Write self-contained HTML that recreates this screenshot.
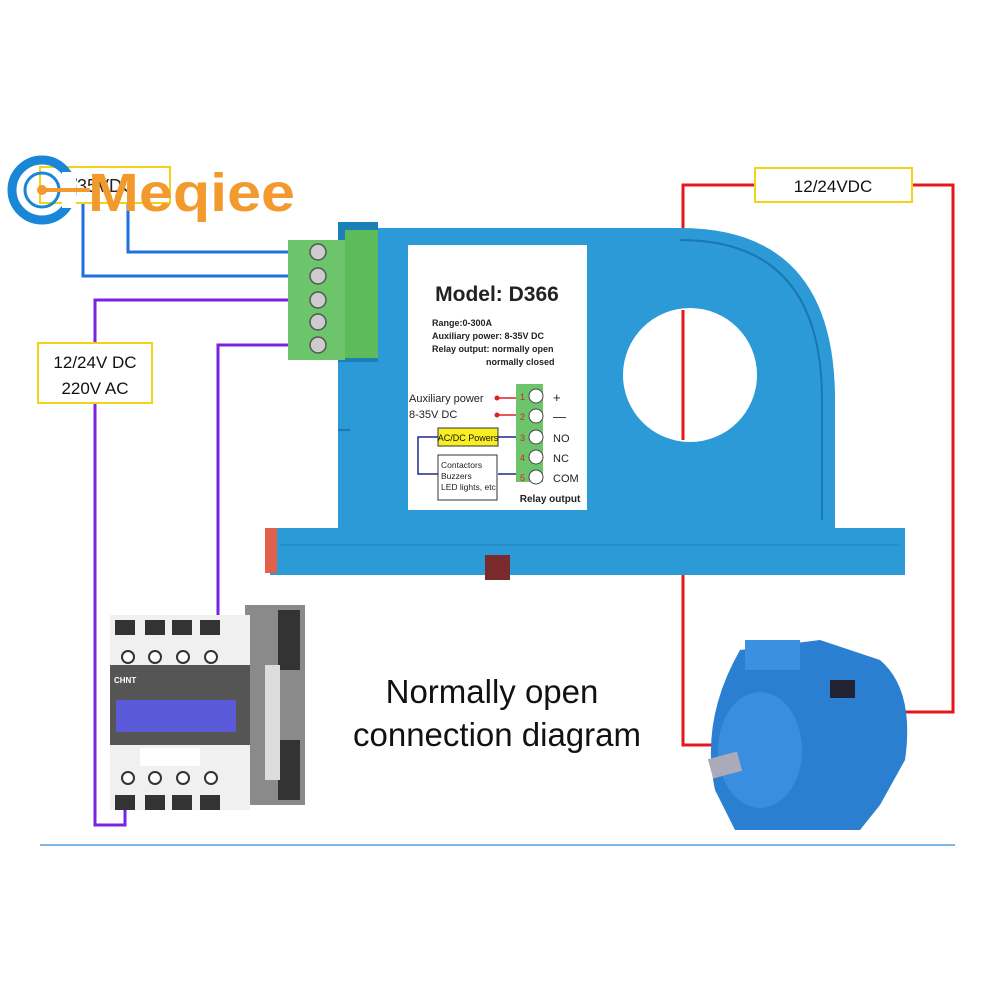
<!DOCTYPE html>
<html><head><meta charset="utf-8"><style>
body{margin:0;width:1000px;height:1000px;background:#fff;overflow:hidden;font-family:"Liberation Sans",sans-serif}
svg{position:absolute;left:0;top:0}
</style></head><body>
<svg width="1000" height="1000" viewBox="0 0 1000 1000" xmlns="http://www.w3.org/2000/svg">
<g fill="none" stroke-width="3">
<polyline points="128,195 128,252 318,252" stroke="#1e6fe0"/>
<polyline points="83,195 83,276 318,276" stroke="#1e6fe0"/>
<polyline points="318,300 95,300 95,825 125,825 125,650" stroke="#7a22e0"/>
<polyline points="318,345 218,345 218,625" stroke="#7a22e0"/>
<polyline points="755,185 683,185 683,745 715,745" stroke="#e5171b"/>
<polyline points="912,185 953,185 953,712 905,712" stroke="#e5171b"/>
</g>
<rect x="40" y="167" width="130" height="36" fill="#fff" stroke="#f3d21c" stroke-width="2"/>
<text x="62" y="192" font-size="18" fill="#222">8/35VDC</text>
<rect x="38" y="343" width="114" height="60" fill="#fff" stroke="#f3d21c" stroke-width="2"/>
<text x="95" y="368" font-size="17" fill="#111" text-anchor="middle">12/24V DC</text>
<text x="95" y="394" font-size="17" fill="#111" text-anchor="middle">220V AC</text>
<rect x="755" y="168" width="157" height="34" fill="#fff" stroke="#f3d21c" stroke-width="2"/>
<text x="833" y="192" font-size="17" fill="#111" text-anchor="middle">12/24VDC</text>
<circle cx="42" cy="190" r="30" fill="none" stroke="#1a86d8" stroke-width="9"/>
<circle cx="42" cy="190" r="17" fill="none" stroke="#1a86d8" stroke-width="3"/>
<rect x="62" y="172" width="14" height="36" fill="#fff"/>
<line x1="42" y1="190" x2="90" y2="190" stroke="#f39a2e" stroke-width="4"/>
<circle cx="42" cy="190" r="5" fill="#f39a2e"/>
<text x="88" y="211" font-size="54" font-weight="bold" fill="#f39a2e" textLength="207" lengthAdjust="spacingAndGlyphs">Meqiee</text>
<rect x="270" y="528" width="635" height="47" fill="#2b9ad6"/>
<rect x="265" y="528" width="12" height="45" fill="#e0604a"/>
<rect x="485" y="555" width="25" height="25" fill="#7a2a2a"/>
<path d="M338,228 L680,228 Q835,228 835,400 L835,530 L338,530 Z" fill="#2b9ad6"/>
<path d="M680,240 Q822,240 822,400 L822,520" fill="none" stroke="#1a78b0" stroke-width="2"/>
<line x1="338" y1="430" x2="350" y2="430" stroke="#1a78b0" stroke-width="2"/>
<line x1="280" y1="545" x2="900" y2="545" stroke="#1f86c0" stroke-width="1"/>
<rect x="338" y="222" width="40" height="140" fill="#1b7fb8"/>
<circle cx="690" cy="375" r="67" fill="#fff"/>
<line x1="683" y1="310" x2="683" y2="440" stroke="#e5171b" stroke-width="3"/>
<rect x="345" y="230" width="33" height="128" fill="#5dbb5a"/>
<rect x="288" y="240" width="57" height="120" fill="#6cc56a"/>
<g fill="#ccc" stroke="#555" stroke-width="1.5">
<circle cx="318" cy="252" r="8"/><circle cx="318" cy="276" r="8"/><circle cx="318" cy="300" r="8"/><circle cx="318" cy="322" r="8"/><circle cx="318" cy="345" r="8"/>
</g>
<rect x="408" y="245" width="179" height="265" fill="#fff"/>
<text x="497" y="301" font-size="21" font-weight="bold" fill="#222" text-anchor="middle">Model: D366</text>
<g font-size="9" font-weight="bold" fill="#222">
<text x="432" y="326">Range:0-300A</text>
<text x="432" y="339">Auxiliary power: 8-35V DC</text>
<text x="432" y="352">Relay output: normally open</text>
<text x="486" y="365">normally closed</text>
</g>
<rect x="516" y="384" width="27" height="98" fill="#6cc56a"/>
<g fill="#fff" stroke="#444"><circle cx="536" cy="396" r="7"/><circle cx="536" cy="416" r="7"/><circle cx="536" cy="437" r="7"/><circle cx="536" cy="457" r="7"/><circle cx="536" cy="477" r="7"/></g>
<g font-size="9" fill="#d22"><text x="520" y="400">1</text><text x="520" y="420">2</text><text x="520" y="441">3</text><text x="520" y="461">4</text><text x="520" y="481">5</text></g>
<g font-size="13" fill="#222"><text x="553" y="402">+</text><text x="553" y="421">—</text></g>
<g font-size="11" fill="#222"><text x="553" y="442">NO</text><text x="553" y="462">NC</text><text x="553" y="482">COM</text></g>
<text x="409" y="402" font-size="11" fill="#222">Auxiliary power</text>
<text x="409" y="418" font-size="11" fill="#222">8-35V DC</text>
<g stroke="#d22" stroke-width="1.5"><line x1="497" y1="398" x2="516" y2="398"/><line x1="497" y1="415" x2="516" y2="415"/></g>
<circle cx="497" cy="398" r="2.5" fill="#d22"/><circle cx="497" cy="415" r="2.5" fill="#d22"/>
<polyline points="438,437 418,437 418,474 438,474" fill="none" stroke="#1a2a8a" stroke-width="1.5"/>
<line x1="498" y1="437" x2="516" y2="437" stroke="#1a2a8a" stroke-width="1.5"/>
<line x1="498" y1="474" x2="516" y2="474" stroke="#1a2a8a" stroke-width="1.5"/>
<rect x="438" y="428" width="60" height="18" fill="#f8ee22" stroke="#333"/>
<text x="468" y="441" font-size="9" text-anchor="middle" fill="#111">AC/DC Powers</text>
<rect x="438" y="455" width="59" height="45" fill="#fff" stroke="#333"/>
<g font-size="8.5" fill="#222"><text x="441" y="468">Contactors</text><text x="441" y="479">Buzzers</text><text x="441" y="490">LED lights, etc.</text></g>
<text x="550" y="502" font-size="10" font-weight="bold" fill="#222" text-anchor="middle">Relay output</text>
<rect x="245" y="605" width="60" height="200" fill="#8a8a8a"/>
<rect x="278" y="610" width="22" height="60" fill="#333"/>
<rect x="278" y="740" width="22" height="60" fill="#333"/>
<rect x="110" y="615" width="140" height="195" fill="#f0f0f0"/>
<rect x="110" y="665" width="140" height="80" fill="#555"/>
<rect x="116" y="700" width="120" height="32" fill="#5a5ad8"/>
<rect x="140" y="748" width="60" height="18" fill="#fff"/>
<g fill="#333"><rect x="115" y="620" width="20" height="15"/><rect x="145" y="620" width="20" height="15"/><rect x="172" y="620" width="20" height="15"/><rect x="200" y="620" width="20" height="15"/>
<rect x="115" y="795" width="20" height="15"/><rect x="145" y="795" width="20" height="15"/><rect x="172" y="795" width="20" height="15"/><rect x="200" y="795" width="20" height="15"/></g>
<g fill="#fff" stroke="#333" stroke-width="2"><circle cx="128" cy="657" r="6"/><circle cx="155" cy="657" r="6"/><circle cx="183" cy="657" r="6"/><circle cx="211" cy="657" r="6"/>
<circle cx="128" cy="778" r="6"/><circle cx="155" cy="778" r="6"/><circle cx="183" cy="778" r="6"/><circle cx="211" cy="778" r="6"/></g>
<text x="114" y="683" font-size="8" fill="#fff" font-weight="bold">CHNT</text>
<rect x="265" y="665" width="15" height="115" fill="#ddd"/>
<path d="M740,650 L820,640 L880,660 Q915,690 905,760 L880,805 L860,830 L735,830 L715,790 Q700,720 740,650 Z" fill="#2a7fd0"/>
<rect x="745" y="640" width="55" height="30" fill="#3b90e0"/>
<ellipse cx="760" cy="750" rx="42" ry="58" fill="#3a8ee0"/>
<rect x="710" y="755" width="30" height="20" fill="#aab" transform="rotate(-15 725 765)"/>
<rect x="830" y="680" width="25" height="18" fill="#223"/>
<text x="492" y="703" font-size="33" fill="#111" text-anchor="middle">Normally open</text>
<text x="497" y="746" font-size="33" fill="#111" text-anchor="middle">connection diagram</text>
<line x1="40" y1="845" x2="955" y2="845" stroke="#5a9de0" stroke-width="1.5"/>
</svg>
</body></html>
